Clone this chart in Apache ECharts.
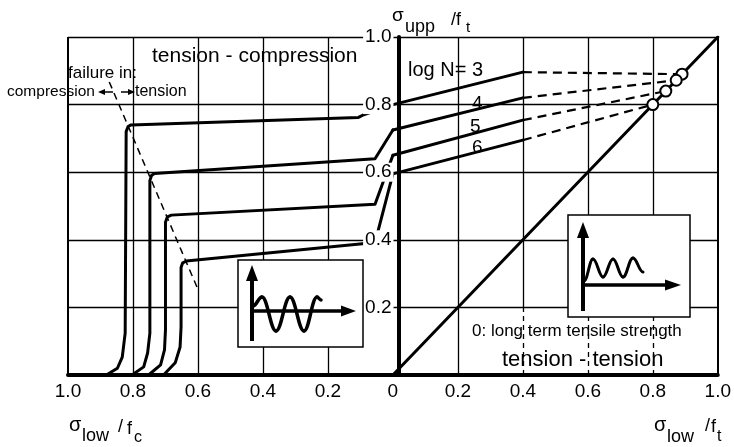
<!DOCTYPE html>
<html><head><meta charset="utf-8">
<script src="https://cdn.jsdelivr.net/npm/echarts@6/dist/echarts.min.js"></script>
<style>html,body{margin:0;padding:0;background:#fff}#c{width:734px;height:447px}</style>
</head><body><div id="c"></div>
<script>
// ---------- data (x < 0 : sigma_low/f_c side, x > 0 : sigma_low/f_t side) ----------
const xTicks = [-1, -0.8, -0.6, -0.4, -0.2, 0, 0.2, 0.4, 0.6, 0.8, 1];
const yTicks = [0, 0.2, 0.4, 0.6, 0.8, 1];
const dashedGridX = [0.4, 0.6, 0.8];           // grid lines drawn dashed below 0.2
const logNLabels = ['3', '4', '5', '6'];

// tension - compression curves (log N = 3..6)
const tcLogN3 = [[-0.882,0],[-0.848,0.02],[-0.833,0.053],[-0.824,0.124],[-0.821,0.72],[-0.815,0.735],[-0.806,0.74],[-0.106,0.762],[-0.09,0.77],[0,0.8]];
const tcLogN4 = [[-0.803,0],[-0.767,0.024],[-0.755,0.065],[-0.748,0.124],[-0.748,0.575],[-0.743,0.59],[-0.734,0.596],[-0.055,0.64],[0,0.725]];
const tcLogN5 = [[-0.752,0],[-0.715,0.03],[-0.703,0.074],[-0.7,0.133],[-0.7,0.452],[-0.694,0.468],[-0.682,0.473],[-0.055,0.505],[0,0.65]];
const tcLogN6 = [[-0.706,0],[-0.67,0.036],[-0.655,0.083],[-0.652,0.142],[-0.652,0.318],[-0.647,0.332],[-0.636,0.337],[-0.094,0.388],[-0.055,0.392],[0,0.595]];

// tension - tension curves (solid part)
const ttLogN3 = [[0,0.8],[0.4,0.896]];
const ttLogN4 = [[0,0.725],[0.4,0.82]];
const ttLogN5 = [[0,0.65],[0.4,0.754]];
const ttLogN6 = [[0,0.595],[0.4,0.695]];

// long term tensile strength points (on the diagonal)
const longTermStrength = [0.89, 0.872, 0.84, 0.80];

const diagonal = [[0,0],[1,1]];
const failureLine = [[-0.873,0.867],[-0.603,0.26]];

// ---------- fonts ----------
const FONT = 'Liberation Sans';

// ---------- series ----------
const K = '#000';
const series = [];
const solid = (data, extra) => Object.assign({
  type: 'line', data, symbol: 'none', silent: true, animation: false, z: 3,
  lineStyle: { color: K, width: 3, cap: 'round', join: 'round' }
}, extra || {});

// vertical grid lines as markLine segments
const gridSegs = [];
xTicks.forEach(x => {
  if (x === 0) return;
  const border = (x === -1 || x === 1);
  const ls = { color: K, width: border ? 2 : 1.3, type: 'solid' };
  if (dashedGridX.indexOf(x) >= 0) {
    gridSegs.push([{ coord: [x, 0.2], lineStyle: ls }, { coord: [x, 1] }]);
    gridSegs.push([{ coord: [x, 0], lineStyle: { color: K, width: 1.3, type: [5, 4] } }, { coord: [x, 0.2] }]);
  } else {
    gridSegs.push([{ coord: [x, 0], lineStyle: ls }, { coord: [x, 1] }]);
  }
});

series.push(solid(diagonal, {
  markLine: { silent: true, animation: false, symbol: ['none', 'none'], label: { show: false },
    emphasis: { disabled: true }, data: gridSegs }
}));
[tcLogN3, tcLogN4, tcLogN5, tcLogN6, ttLogN3, ttLogN4, ttLogN5, ttLogN6].forEach(d => series.push(solid(d)));
[ttLogN3, ttLogN4, ttLogN5, ttLogN6].forEach((d, i) => {
  series.push(solid([d[d.length - 1], [longTermStrength[i], longTermStrength[i]]],
    { lineStyle: { color: K, width: 2.2, type: [9, 6] } }));
});
series.push(solid(failureLine, { lineStyle: { color: K, width: 1.5, type: [7, 5] } }));
series.push({
  type: 'scatter', data: longTermStrength.map(v => [v, v]), symbol: 'circle', symbolSize: 11,
  silent: true, animation: false, z: 10,
  itemStyle: { color: '#fff', opacity: 1, borderColor: K, borderWidth: 2 }
});

// ---------- decorations ----------
const g = [];
const txt = (text, x, y, size, font) => g.push({ type: 'text', x, y, z: 100, silent: true,
  style: { text, fill: K, fontSize: size, fontFamily: font || FONT, align: 'left', verticalAlign: 'middle' } });
const line = (x1, y1, x2, y2, w) => g.push({ type: 'line', z: 101, silent: true,
  shape: { x1, y1, x2, y2 }, style: { stroke: K, lineWidth: w, lineCap: 'butt' } });
const tri = (pts) => g.push({ type: 'polygon', z: 101, silent: true, shape: { points: pts }, style: { fill: K } });
const wave = (pts, w) => {
  for (let i = 0; i < pts.length - 1; i++) {
    const [x0, y0] = pts[i], [x1, y1] = pts[i + 1], d = x1 - x0;
    g.push({ type: 'bezierCurve', z: 101, silent: true,
      shape: { x1: x0, y1: y0, x2: x1, y2: y1, cpx1: x0 + 0.4 * d, cpy1: y0, cpx2: x1 - 0.4 * d, cpy2: y1 },
      style: { stroke: K, lineWidth: w, fill: null, lineCap: 'round' } });
  }
};
const box = (x, y, w, h) => g.push({ type: 'rect', z: 100, silent: true, shape: { x, y, width: w, height: h },
  style: { fill: '#fff', stroke: K, lineWidth: 1.5 } });

// left inset (tension - compression loading)
box(238, 260, 125, 87);
line(252, 341, 252, 278, 4); tri([[246, 281], [258, 281], [252, 265]]);
line(252, 311, 344, 311, 3.5); tri([[341, 305.5], [341, 316.5], [356, 311]]);
wave([[253, 306], [262, 297], [276, 331], [290, 297], [304, 331], [317, 297], [321, 300]], 3.5);

// right inset (tension - tension loading)
box(568, 215, 122, 102);
line(583, 311, 583, 235, 4); tri([[577, 238], [589, 238], [583, 222]]);
line(583, 285, 668, 285, 3.5); tri([[665, 279.5], [665, 290.5], [681, 285]]);
wave([[584, 281], [593, 259], [603, 277], [613, 259], [623, 277], [633, 258], [643, 272]], 3);

// texts
txt('tension - compression', 152, 56, 21);
txt('failure in:', 68, 73, 17);
txt('compression', 7, 92, 15.5);
line(104, 92, 113, 92, 1.5); tri([[105, 89], [105, 95], [98, 92]]);
line(121, 92, 129, 92, 1.5); tri([[128, 89], [128, 95], [135, 92]]);
txt('tension', 135, 92, 16);
txt('log N= ' + logNLabels[0], 408, 70, 20);
txt(logNLabels[1], 472, 104, 19);
txt(logNLabels[2], 470, 127, 19);
txt(logNLabels[3], 472, 148, 19);
txt('0: long term tensile strength', 472, 331, 17);
txt('tension - tension', 502, 360, 22);
// axis names
txt('\u03c3', 392, 16, 19); txt('upp', 405, 27, 18); txt('/f', 451, 20, 18); txt('t', 466, 28, 15);
txt('\u03c3', 69, 425, 20); txt('low', 82, 436, 18); txt('/', 118, 427, 18); txt('f', 127, 429, 18); txt('c', 134, 438, 16);
txt('\u03c3', 654, 425, 20); txt('low', 667, 437, 18); txt('/', 705, 426, 18); txt('f', 711, 427, 18); txt('t', 717, 437, 16);

// ---------- chart ----------
const GRID = { left: 68, right: 5, top: 37, bottom: 72 };
const plotW = 734 - GRID.left - GRID.right;
const chart = echarts.init(document.getElementById('c'), null, { renderer: 'canvas' });
chart.setOption({
  backgroundColor: '#fff',
  animation: false,
  grid: Object.assign({ containLabel: false }, GRID),
  xAxis: {
    type: 'value', min: xTicks[0], max: xTicks[xTicks.length - 1], interval: 0.2,
    axisLine: { show: true, onZero: false, lineStyle: { color: K, width: 4 } },
    axisTick: { show: false },
    splitLine: { show: false },
    axisLabel: { color: K, fontSize: 19, fontFamily: FONT, margin: 7, showMinLabel: true, showMaxLabel: true,
      formatter: v => Math.abs(v) < 1e-9 ? '0' : Math.abs(v).toFixed(1) }
  },
  yAxis: {
    type: 'value', min: yTicks[0], max: yTicks[yTicks.length - 1], interval: 0.2, z: 5,
    position: 'left', offset: -plotW / 2,
    axisLine: { show: true, onZero: false, lineStyle: { color: K, width: 4 } },
    axisTick: { show: false },
    splitLine: { show: true, lineStyle: { color: K, width: 1.4 } },
    axisLabel: { color: K, fontSize: 19, fontFamily: FONT, margin: 5, backgroundColor: '#fff', padding: [0, 2],
      formatter: v => Math.abs(v) < 1e-9 ? '' : v.toFixed(1) }
  },
  series,
  graphic: { elements: g }
});
</script></body></html>
